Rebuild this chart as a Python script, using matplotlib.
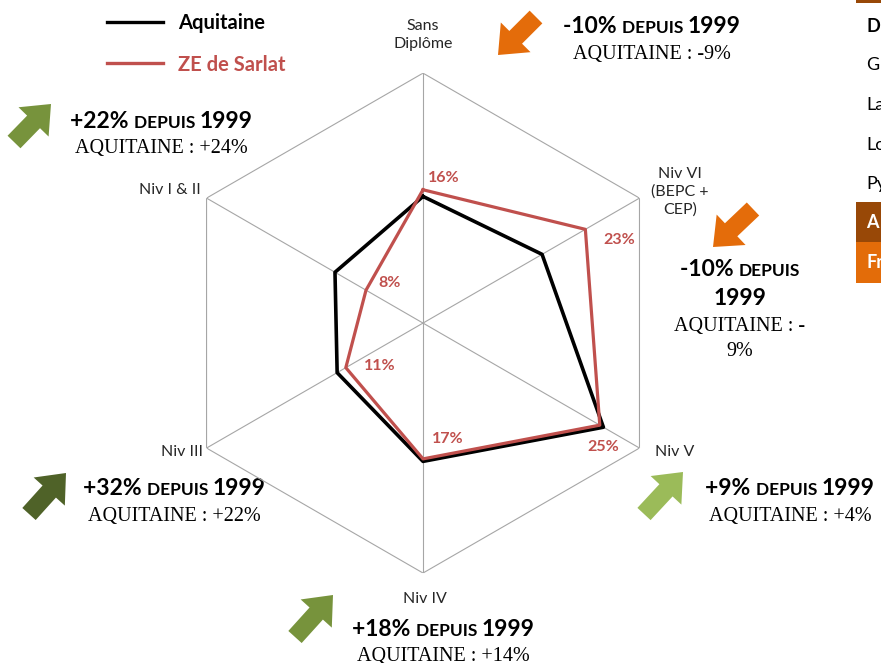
import matplotlib
matplotlib.use("Agg")
import matplotlib.pyplot as plt
import numpy as np
from matplotlib.patches import FancyArrow, Rectangle

SANS = "Lato"
SERIF = "Liberation Serif"

# --- données ---
categories = ["Sans\nDiplôme", "Niv VI\n(BEPC +\nCEP)", "Niv V", "Niv IV", "Niv III", "Niv I & II"]
aquitaine = [0.152, 0.165, 0.250, 0.166, 0.119, 0.122]
sarlat = [0.160, 0.225, 0.245, 0.163, 0.107, 0.079]
sarlat_labels = ["16%", "23%", "25%", "17%", "11%", "8%"]

evol_sarlat = ["-10%", "-10%", "+9%", "+18%", "+32%", "+22%"]
evol_aquitaine = ["-9%", "-9%", "+4%", "+14%", "+22%", "+24%"]
arrow_colors = ["#E46C0A", "#E46C0A", "#9BBB59", "#77933C", "#4F6228", "#77933C"]

table_rows = ["D", "G", "La", "Lo", "Py"]

RED = "#C0504D"
GRID = "#A6A6A6"

fig = plt.figure(figsize=(8.81, 6.63), dpi=100)

# calque en pixels pour les textes / flèches
ov = fig.add_axes([0, 0, 1, 1])
ov.set_xlim(0, 881)
ov.set_ylim(663, 0)
ov.axis("off")

# --- radar ---
ax = fig.add_axes([0.1964, 0.1357, 0.5675, 0.754], projection="polar")
ax.patch.set_alpha(0)
ax.set_theta_offset(np.pi / 2)
ax.set_theta_direction(-1)
ax.set_ylim(0, 0.3)
ax.grid(False)
ax.spines["polar"].set_visible(False)
ax.set_xticks([])
ax.set_yticks([])

theta = np.arange(len(categories)) * 2 * np.pi / len(categories)
closed = np.append(theta, theta[0])

ax.plot(closed, [0.3] * len(closed), color=GRID, lw=0.8)
for t in theta:
    ax.plot([t, t], [0, 0.3], color=GRID, lw=0.8)

ax.plot(closed, aquitaine + aquitaine[:1], color="black", lw=2.6, zorder=3)
ax.plot(closed, sarlat + sarlat[:1], color=RED, lw=2.3, zorder=4)

label_offsets = [(21, 12), (34, -11), (3, -22), (25, 20), (34, 2), (24, 7)]
for t, v, lab, off in zip(theta, sarlat, sarlat_labels, label_offsets):
    ax.annotate(lab, xy=(t, v), xytext=off, textcoords="offset pixels",
                ha="center", va="center", fontsize=11.5, fontweight="bold",
                color=RED, family=SANS, zorder=5)

# étiquettes des axes
cat_pos = [(423, 35), (680, 192), (675, 452), (425, 599), (182, 452), (170, 190)]
for lab, (x, y) in zip(categories, cat_pos):
    ov.text(x, y, lab, ha="center", va="center", fontsize=11.5, family=SANS,
            linespacing=1.3, color="#262626")

# --- légende ---
ov.plot([107, 163], [22, 22], color="black", lw=2.4)
ov.text(178, 23, "Aquitaine", fontsize=14.5, fontweight="bold", family=SANS,
        va="center", ha="left")
ov.plot([107, 163], [63, 63], color=RED, lw=2.4)
ov.text(178, 65, "ZE de Sarlat", fontsize=14.5, fontweight="bold", family=SANS,
        va="center", ha="left", color=RED)

renderer = fig.canvas.get_renderer()


def rich(x, y, parts):
    objs = []
    for s, sz in parts:
        objs.append(ov.text(0, y, s, fontsize=sz, fontweight="bold", family=SANS,
                            va="baseline", ha="left"))
    widths = [o.get_window_extent(renderer).width for o in objs]
    x0 = x - sum(widths) / 2
    for o, w in zip(objs, widths):
        o.set_x(x0)
        x0 += w


BIG, SMALL, SER = 16.5, 12.5, 14.5

# flèches: (queue, pointe)
arrows = [((536, 17), (498, 55)), ((753, 209), (713, 247)), ((644, 514), (683, 472)),
          ((295, 637), (333, 595)), ((29, 514), (66, 473)), ((14, 142), (51, 104))]
for (t0, t1), c in zip(arrows, arrow_colors):
    ov.add_patch(FancyArrow(t0[0], t0[1], t1[0] - t0[0], t1[1] - t0[1], width=18,
                            head_width=42, head_length=25, length_includes_head=True,
                            color=c, lw=0))

# commentaires
text_pos = [(652, 33), None, (790, 495), (443, 636), (174, 495), (161, 128)]
for i, pos in enumerate(text_pos):
    if pos is None:
        continue
    x, y = pos
    rich(x, y, [(evol_sarlat[i] + " ", BIG), ("DEPUIS ", SMALL), ("1999", BIG)])
    ov.text(x, y + 21, "AQUITAINE : " + evol_aquitaine[i], fontsize=SER, family=SERIF,
            ha="center", va="center")

# Niv VI : texte sur plusieurs lignes
rich(740, 276, [(evol_sarlat[1] + " ", BIG), ("DEPUIS", SMALL)])
rich(740, 305, [("1999", BIG)])
ov.text(740, 326, "AQUITAINE : -", fontsize=SER, family=SERIF, ha="center", va="center")
ov.text(740, 352, evol_aquitaine[1][1:], fontsize=SER, family=SERIF, ha="center", va="center")

# tableau coupé à droite
ov.add_patch(Rectangle((856, 0), 40, 3, color="#984807", lw=0))
for i, r in enumerate(table_rows):
    ov.text(866, 26 + i * 39.5, r, fontsize=13, family=SANS, va="center", ha="left",
            fontweight="bold" if i == 0 else "normal")
ov.add_patch(Rectangle((856, 202), 40, 40, color="#984807", lw=0))
ov.add_patch(Rectangle((856, 242), 40, 41, color="#E36C09", lw=0))
ov.text(866, 222, "A", fontsize=13, family=SANS, va="center", ha="left",
        fontweight="bold", color="white")
ov.text(866, 262, "Fr", fontsize=13, family=SANS, va="center", ha="left",
        fontweight="bold", color="white")

fig.savefig("out.png", dpi=100)
